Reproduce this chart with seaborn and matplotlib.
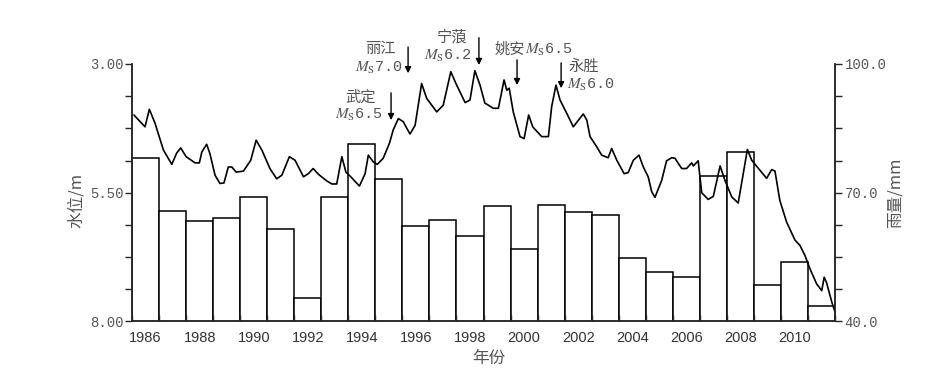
# Water level (line, left axis) and annual rainfall (bars, right axis), 1986-2011

import matplotlib.pyplot as plt
import pandas as pd
import seaborn as sns
from matplotlib.ticker import FixedLocator, NullFormatter


# Annual rainfall (mm), one bar per year
bar_years = list(range(1986, 2012))
rainfall = [78.2, 65.8, 63.3, 64.2, 68.9, 61.6, 45.5, 68.9, 81.3, 73.3,
            62.3, 63.7, 60.0, 66.8, 57.0, 67.2, 65.4, 64.7, 54.9, 51.6,
            50.3, 73.8, 79.6, 48.6, 53.9, 43.5]

# Water level (m)
level_time = [1986.07, 1986.48, 1986.64, 1986.85, 1987.16, 1987.47, 1987.65, 1987.80,
              1988.00, 1988.33, 1988.49, 1988.58, 1988.76, 1988.88, 1989.07, 1989.25,
              1989.40, 1989.56, 1989.69, 1989.85, 1990.12, 1990.39, 1990.59, 1990.80,
              1991.10, 1991.35, 1991.54, 1991.82, 1992.03, 1992.34, 1992.52, 1992.70,
              1992.89, 1993.20, 1993.39, 1993.57, 1993.76, 1993.91, 1994.09, 1994.41,
              1994.62, 1994.74, 1994.92, 1995.07, 1995.29, 1995.52, 1995.66, 1995.85,
              1996.03, 1996.28, 1996.47, 1996.71, 1996.90, 1997.27, 1997.51, 1997.79,
              1997.98, 1998.32, 1998.50, 1998.68, 1998.87, 1999.05, 1999.18, 1999.36,
              1999.55, 1999.76, 1999.86, 1999.95, 2000.10, 2000.35, 2000.50, 2000.67,
              2000.82, 2001.15, 2001.40, 2001.52, 2001.68, 2001.83, 2002.08, 2002.32,
              2002.51, 2002.69, 2002.82, 2002.94, 2003.19, 2003.37, 2003.61, 2003.74,
              2003.93, 2004.20, 2004.35, 2004.54, 2004.75, 2004.91, 2005.09, 2005.22,
              2005.34, 2005.59, 2005.77, 2005.96, 2006.08, 2006.33, 2006.51, 2006.70,
              2006.76, 2006.94, 2007.07, 2007.31, 2007.50, 2007.75, 2007.93, 2008.18,
              2008.42, 2008.76, 2008.92, 2009.22, 2009.47, 2009.66, 2009.78, 2009.96,
              2010.21, 2010.52, 2010.70, 2010.89, 2011.07, 2011.32, 2011.51, 2011.60,
              2011.69, 2011.88, 2011.99]
water_level = [3.99, 4.22, 3.88, 4.15, 4.67, 4.95, 4.73, 4.63,
               4.80, 4.92, 4.92, 4.71, 4.56, 4.74, 5.16, 5.32,
               5.31, 5.00, 5.00, 5.10, 5.08, 4.87, 4.48, 4.67,
               5.03, 5.23, 5.16, 4.80, 4.87, 5.19, 5.13, 5.03,
               5.14, 5.27, 5.33, 5.33, 4.80, 5.10, 5.19, 5.37,
               5.13, 4.77, 4.90, 4.95, 4.83, 4.54, 4.28, 4.06,
               4.12, 4.36, 4.19, 3.38, 3.67, 3.93, 3.80, 3.15,
               3.38, 3.75, 3.70, 3.13, 3.41, 3.76, 3.80, 3.86,
               3.86, 3.31, 3.51, 3.47, 3.93, 4.41, 4.45, 3.99,
               4.22, 4.41, 4.41, 3.83, 3.41, 3.70, 3.96, 4.22,
               4.09, 3.97, 4.09, 4.41, 4.61, 4.77, 4.82, 4.64,
               4.87, 5.13, 5.11, 4.87, 4.77, 5.00, 5.19, 5.48,
               5.59, 5.26, 4.88, 4.82, 4.83, 5.03, 5.03, 4.92,
               4.98, 4.88, 5.50, 5.63, 5.57, 4.98, 5.26, 5.58,
               5.70, 4.66, 4.87, 5.06, 5.22, 5.05, 5.08, 5.65,
               6.07, 6.42, 6.52, 6.72, 6.97, 7.27, 7.40, 7.14,
               7.25, 7.62, 7.80]

# Earthquakes: label, arrow time, arrow top / tip (m)
quake_names = ["丽江", "武定", "宁蒗", "姚安", "永胜"]
quake_mags = ["7.0", "6.5", "6.2", "6.5", "6.0"]
quake_time = [1996.21, 1995.58, 1998.83, 2000.24, 2001.87]
arrow_top = [2.67, 3.56, 2.49, 2.92, 2.98]
arrow_tip = [3.18, 4.09, 3.02, 3.41, 3.47]

x_labels = [str(y) for y in range(1986, 2011, 2)]


# Style
sns.set_style("ticks")
plt.rcParams["font.family"] = ["Noto Sans CJK SC", "DejaVu Sans"]
plt.rcParams["mathtext.fontset"] = "stix"

GREY = "#555555"
MONO = ["Liberation Mono", "Noto Sans CJK SC"]

df_rain = pd.DataFrame({"x": [y + 0.5 for y in bar_years], "rain": rainfall})
df_level = pd.DataFrame({"t": level_time, "h": water_level})

fig = plt.figure(figsize=(9.52, 3.72), dpi=100)
ax = fig.add_axes([0.1387, 0.1358, 0.7384, 0.6922])
ax2 = ax.twinx()

# Bars on the right axis (drawn underneath)
sns.barplot(data=df_rain, x="x", y="rain", native_scale=True, width=1,
            color="white", saturation=1, edgecolor="black", linewidth=1.1,
            ax=ax2)

# Water level line on top
ax.set_zorder(ax2.get_zorder() + 1)
ax.patch.set_visible(False)
sns.lineplot(data=df_level, x="t", y="h", color="black", linewidth=1.2,
             sort=False, ax=ax)

# Axes limits
ax.set_xlim(1986, 2012)
ax.set_ylim(8, 3)
ax2.set_ylim(40, 100)

# Spines
for a in (ax, ax2):
    a.spines["top"].set_visible(False)
    a.spines["left"].set_linewidth(1.1)
    a.spines["right"].set_linewidth(1.1)
    a.spines["bottom"].set_linewidth(1.1)

# x ticks: marks at the year boundaries, labels at the middle of even years
ax.xaxis.set_major_locator(FixedLocator([y + 0.5 for y in range(1986, 2011, 2)]))
ax.set_xticklabels(x_labels, family=["Liberation Sans", "DejaVu Sans"],
                   fontsize=10.5, color="#333333")
ax.xaxis.set_minor_locator(FixedLocator(list(range(1986, 2013))))
ax.tick_params(axis="x", which="major", length=0, pad=7)
ax.tick_params(axis="x", which="minor", direction="in", length=4, width=1)
ax2.tick_params(axis="x", which="both", length=0)

# Left y axis (water level)
ax.set_yticks([3, 5.5, 8])
ax.set_yticklabels(["3.00", "5.50", "8.00"], family=MONO, fontsize=10, color=GREY)
ax.yaxis.set_minor_locator(FixedLocator([3 + 0.625 * i for i in range(9)]))
ax.tick_params(axis="y", which="both", direction="out", length=5, width=1, pad=1)

# Right y axis (rainfall)
ax2.set_yticks([40, 70, 100])
ax2.set_yticklabels(["40.0", "70.0", "100.0"], family=MONO, fontsize=10, color=GREY)
ax2.yaxis.set_minor_locator(FixedLocator([40 + 7.5 * i for i in range(9)]))
ax2.yaxis.set_minor_formatter(NullFormatter())
ax2.tick_params(axis="y", which="both", direction="out", length=5, width=1, pad=2)

# Axis labels
ax.set_xlabel("年份", fontsize=12, color=GREY)
ax.xaxis.set_label_coords(0.508, -0.11)
ax.set_ylabel("水位/m", fontsize=12, color=GREY)
ax.yaxis.set_label_coords(-0.067, 0.47)
ax2.set_ylabel("雨量/mm", fontsize=12, color=GREY, rotation=90)
ax2.yaxis.set_label_coords(1.074, 0.5)

# Earthquake arrows
for t, y0, y1 in zip(quake_time, arrow_top, arrow_tip):
    ax.annotate("", xy=(t, y1), xytext=(t, y0),
                arrowprops=dict(arrowstyle="-|>", color="black", lw=1,
                                mutation_scale=9, shrinkA=0, shrinkB=0))

# Earthquake labels
txt = dict(family=MONO, fontsize=11, color=GREY)
ms = r"$M_{\mathrm{S}}$"
ax.text(1995.17, 2.71, quake_names[0], ha="center", va="center", **txt)
ax.text(1996.02, 3.08, ms + quake_mags[0], ha="right", va="center", **txt)
ax.text(1994.47, 3.65, quake_names[1], ha="center", va="center", **txt)
ax.text(1995.28, 3.99, ms + quake_mags[1], ha="right", va="center", **txt)
ax.text(1997.83, 2.48, quake_names[2], ha="center", va="center", **txt)
ax.text(1998.57, 2.84, ms + quake_mags[2], ha="right", va="center", **txt)
ax.text(2000.53, 2.73, quake_names[3], ha="right", va="center", **txt)
ax.text(2000.53, 2.73, ms + quake_mags[3], ha="left", va="center", **txt)
ax.text(2002.72, 3.05, quake_names[4], ha="center", va="center", **txt)
ax.text(2002.09, 3.40, ms + quake_mags[4], ha="left", va="center", **txt)

fig.savefig("out.png", dpi=100)
